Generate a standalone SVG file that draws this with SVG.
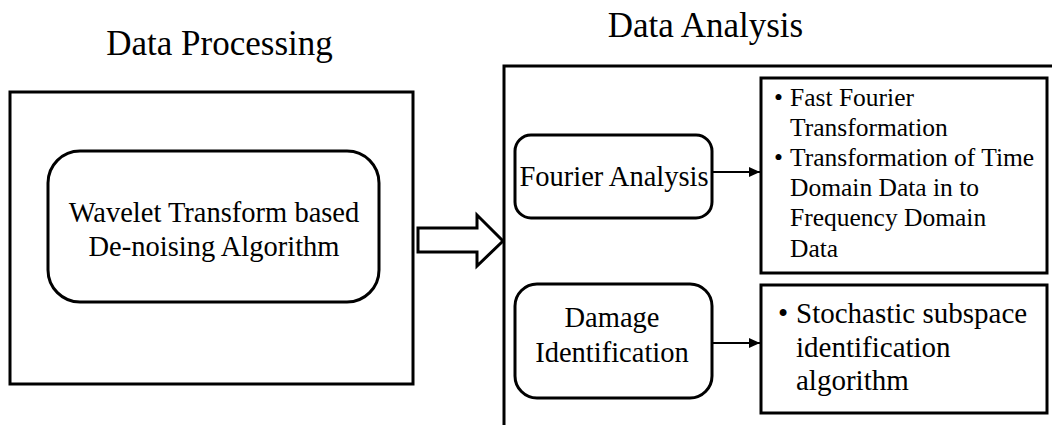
<svg xmlns="http://www.w3.org/2000/svg" width="1052" height="425" viewBox="0 0 1052 425">
  <style>
    .frame { fill: #fff; stroke: #000; stroke-width: 3; }
    .node { fill: #fff; stroke: #000; stroke-width: 3; }
    text { fill: #000; }
    .title { font-size: 35px; text-anchor: middle; }
    .label { font-size: 28.5px; text-anchor: middle; }
    .bullet { font-size: 25.5px; }
    .bullet2 { font-size: 29px; }
    .conn { stroke: #000; stroke-width: 2; fill: none; }
  </style>
  <defs>
    <marker id="arrowhead" markerUnits="userSpaceOnUse" markerWidth="12" markerHeight="12" refX="11" refY="6" orient="auto">
      <path d="M0,1 L11,6 L0,11 Z" fill="#000"/>
    </marker>
  </defs>

  <rect width="1052" height="425" fill="#fff"/>

  <g font-family="Liberation Serif, Times New Roman, serif">
  <!-- Section titles -->
  <text class="title" x="219.5" y="55">Data Processing</text>
  <text class="title" x="705.5" y="37">Data Analysis</text>

  <!-- Data processing stage -->
  <g id="processing-frame">
    <rect class="frame" x="10" y="92" width="403" height="292"/>
  </g>
  <g id="wavelet-denoising">
    <rect class="node" x="48" y="151" width="331" height="151" rx="32" ry="32"/>
    <text class="label" x="214" y="222">Wavelet Transform based</text>
    <text class="label" x="214" y="256">De-noising Algorithm</text>
  </g>

  <!-- Data analysis stage (frame runs off the page edge) -->
  <g id="analysis-frame">
    <rect class="frame" x="504" y="66" width="600" height="400"/>
  </g>
  <g id="fourier-analysis">
    <rect class="node" x="515" y="135" width="197" height="83" rx="16" ry="16"/>
    <text class="label" x="614" y="186">Fourier Analysis</text>
  </g>
  <g id="damage-identification">
    <rect class="node" x="515" y="284" width="197" height="114" rx="22" ry="22"/>
    <text class="label" x="612" y="327">Damage</text>
    <text class="label" x="612" y="362">Identification</text>
  </g>
  <g id="fourier-details">
    <rect class="node" x="761" y="78" width="286" height="195"/>
    <text class="bullet" x="774" y="106">•</text>
    <text class="bullet" x="790" y="106">Fast Fourier</text>
    <text class="bullet" x="790" y="136">Transformation</text>
    <text class="bullet" x="774" y="166">•</text>
    <text class="bullet" x="790" y="166">Transformation of Time</text>
    <text class="bullet" x="790" y="196">Domain Data in to</text>
    <text class="bullet" x="790" y="226">Frequency Domain</text>
    <text class="bullet" x="790" y="257">Data</text>
  </g>
  <g id="damage-details">
    <rect class="node" x="761" y="285" width="286" height="128"/>
    <text class="bullet2" x="778" y="323">•</text>
    <text class="bullet2" x="796" y="323">Stochastic subspace</text>
    <text class="bullet2" x="796" y="357">identification</text>
    <text class="bullet2" x="796" y="390">algorithm</text>
  </g>
  </g>

  <!-- Connectors -->
  <g id="connectors">
    <polygon points="418,228 477,228 477,215 503,241 477,266 477,252 418,252" fill="#fff" stroke="#000" stroke-width="3" stroke-linejoin="miter"/>
    <line class="conn" x1="712" y1="172" x2="760" y2="172" marker-end="url(#arrowhead)"/>
    <line class="conn" x1="712" y1="343" x2="760" y2="343" marker-end="url(#arrowhead)"/>
  </g>
</svg>
